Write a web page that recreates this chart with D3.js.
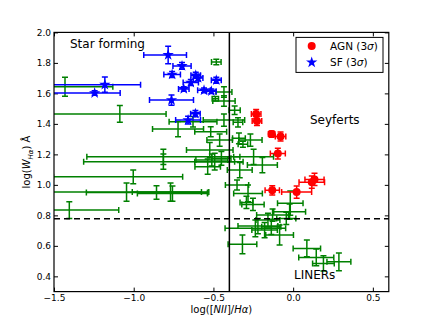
<!DOCTYPE html>
<html>
<head>
<meta charset="utf-8">
<style>
  body { margin: 0; background: #fff; }
  svg text { font-family: "DejaVu Sans", sans-serif; fill: #000; }
</style>
</head>
<body>
<svg id="chart" width="432" height="324"></svg>
<script src="https://d3js.org/d3.v7.min.js"></script>
<script>
// AGN (3 sigma) - red circles
const agnX    = [-0.232, -0.227, -0.135, -0.079, -0.096, -0.131, 0.022, 0.117, 0.134];
const agnY    = [1.465, 1.419, 1.333, 1.317, 1.205, 0.964, 0.953, 1.018, 1.036];
const agnXerr = [0.03, 0.03, 0.02, 0.033, 0.047, 0.045, 0.094, 0.08, 0.06];
const agnYerr = [0.03, 0.03, 0.02, 0.03, 0.035, 0.03, 0.04, 0.04, 0.04];

// SF (3 sigma) - blue stars
const sfX    = [-0.784, -0.697, -0.759, -0.611, -0.596, -0.642, -0.686, -0.482, -0.559, -0.513, -0.763, -0.613, -0.659, -1.181, -1.245];
const sfY    = [1.852, 1.780, 1.724, 1.719, 1.701, 1.671, 1.629, 1.686, 1.620, 1.614, 1.556, 1.467, 1.425, 1.657, 1.602];
const sfXlo  = [0.153, 0.057, 0.052, 0.03, 0.03, 0.048, 0.033, 0.031, 0.04, 0.03, 0.138, 0.03, 0.078, 0.33, 0.26];
const sfXhi  = [0.115, 0.057, 0.052, 0.03, 0.03, 0.048, 0.033, 0.031, 0.04, 0.03, 0.138, 0.03, 0.078, 0.224, 0.16];
const sfYerr = [0.057, 0.022, 0.02, 0.02, 0.02, 0.02, 0.015, 0.02, 0.015, 0.015, 0.033, 0.02, 0.025, 0.05, 0.015];

// remaining galaxies - green error bars only
const galX = [-1.431, -1.087, -0.722, -0.517, -0.814, -0.814, -1.003, -1.045, -0.857, -0.769,
              -0.757, -1.404, -0.488, -0.482, -0.434, -0.434, -0.367, -0.434, -0.346, -0.628,
              -0.461, -0.340, -0.268, -0.315, -0.523, -0.248, -0.193, -0.335, -0.510, -0.492,
              -0.536, -0.450, -0.352, -0.283, -0.293, -0.252, -0.018, -0.022, -0.158, -0.043,
              -0.237, -0.221, -0.179, -0.137, -0.085, -0.318, 0.086, 0.145, 0.190, 0.287, -0.129];
const galY = [1.644, 1.465, 1.366, 1.348, 1.184, 1.152, 1.053, 0.953, 0.950, 0.953,
              0.943, 0.835, 1.565, 1.806, 1.609, 1.550, 1.489, 1.425, 1.410, 1.414,
              1.294, 1.305, 1.294, 1.266, 1.228, 1.184, 1.130, 1.097, 1.163, 1.152,
              1.119, 1.174, 0.999, 0.944, 0.885, 0.872, 0.880, 0.824, 0.769, 0.780,
              0.715, 0.730, 0.704, 0.725, 0.671, 0.610, 0.583, 0.524, 0.485, 0.495, 0.802];
const galXlo = [0.30, 0.45, 0.16, 0.10, 0.48, 0.50, 0.50, 0.47, 0.44, 0.24,
                0.22, 0.31, 0.02, 0.03, 0.05, 0.07, 0.035, 0.13, 0.03, 0.15,
                0.08, 0.04, 0.073, 0.03, 0.146, 0.125, 0.094, 0.078, 0.10, 0.125,
                0.08, 0.06, 0.073, 0.09, 0.04, 0.07, 0.08, 0.10, 0.075, 0.06,
                0.19, 0.125, 0.08, 0.06, 0.087, 0.09, 0.086, 0.11, 0.068, 0.075, 0.10];
const galXhi = [0.30, 0.29, 0.16, 0.10, 0.48, 0.50, 0.31, 0.47, 0.32, 0.24,
                0.22, 0.31, 0.02, 0.03, 0.05, 0.07, 0.035, 0.13, 0.03, 0.15,
                0.08, 0.04, 0.073, 0.03, 0.146, 0.125, 0.094, 0.078, 0.10, 0.125,
                0.08, 0.06, 0.073, 0.09, 0.04, 0.07, 0.08, 0.10, 0.075, 0.06,
                0.19, 0.125, 0.08, 0.06, 0.087, 0.09, 0.086, 0.11, 0.068, 0.075, 0.10];
const galYerr = [0.062, 0.055, 0.05, 0.033, 0.05, 0.05, 0.045, 0.06, 0.045, 0.06,
                 0.05, 0.055, 0.015, 0.018, 0.035, 0.035, 0.028, 0.04, 0.03, 0.035,
                 0.04, 0.035, 0.04, 0.02, 0.05, 0.05, 0.05, 0.05, 0.04, 0.055,
                 0.05, 0.045, 0.033, 0.055, 0.04, 0.04, 0.08, 0.05, 0.045, 0.04,
                 0.055, 0.05, 0.05, 0.05, 0.065, 0.062, 0.055, 0.055, 0.05, 0.058, 0.04];

const xTicks = [-1.5, -1.0, -0.5, 0.0, 0.5];
const yTicks = [0.4, 0.6, 0.8, 1.0, 1.2, 1.4, 1.6, 1.8, 2.0];
const niiCut = -0.4;            // vertical divider
const ewCut = Math.log10(6);    // dashed horizontal divider

const margin = {top: 32.4, right: 43.2, bottom: 32.4, left: 54},
      width = 432 - margin.left - margin.right,
      height = 324 - margin.top - margin.bottom;

const svg = d3.select("#chart");
const chart = svg.append("g")
    .attr("transform", "translate(" + margin.left + "," + margin.top + ")");

const xScale = d3.scaleLinear().domain([-1.5, 0.6]).range([0, width]);
const yScale = d3.scaleLinear().domain([0.3, 2.0]).range([height, 0]);

chart.append("clipPath").attr("id", "clip")
  .append("rect").attr("width", width).attr("height", height);

const fmt = d3.format(".1f");

// axes with inward ticks on all four sides
chart.append("g")
    .attr("transform", "translate(0," + height + ")")
    .call(d3.axisBottom(xScale).tickValues(xTicks).tickSize(-4).tickPadding(3).tickFormat(fmt));
chart.append("g")
    .call(d3.axisTop(xScale).tickValues(xTicks).tickSize(-4).tickFormat(""));
chart.append("g")
    .call(d3.axisLeft(yScale).tickValues(yTicks).tickSize(-4).tickPadding(3).tickFormat(fmt));
chart.append("g")
    .attr("transform", "translate(" + width + ",0)")
    .call(d3.axisRight(yScale).tickValues(yTicks).tickSize(-4).tickFormat(""));
chart.selectAll(".domain").remove();
chart.selectAll(".tick line").attr("stroke", "#000").attr("stroke-width", 1);
chart.selectAll(".tick text").attr("font-size", 9).attr("font-family", "DejaVu Sans");

function rows(xs, ys, xlo, xhi, ye) {
  return xs.map((d, i) => ({x: d, y: ys[i], xlo: xlo[i], xhi: xhi[i], ye: ye[i]}));
}

function drawErrors(data, color) {
  const g = chart.append("g").attr("clip-path", "url(#clip)")
      .attr("stroke", color).attr("stroke-width", 1.5).attr("fill", "none");
  const cap = 3;
  const e = g.selectAll("g").data(data).join("g");
  e.append("line")
      .attr("x1", d => xScale(d.x - d.xlo)).attr("x2", d => xScale(d.x + d.xhi))
      .attr("y1", d => yScale(d.y)).attr("y2", d => yScale(d.y));
  e.append("line")
      .attr("x1", d => xScale(d.x)).attr("x2", d => xScale(d.x))
      .attr("y1", d => yScale(d.y - d.ye)).attr("y2", d => yScale(d.y + d.ye));
  // caps
  e.append("path")
      .attr("d", d => {
        const x0 = xScale(d.x - d.xlo), x1 = xScale(d.x + d.xhi), yc = yScale(d.y);
        const xc = xScale(d.x), y0 = yScale(d.y - d.ye), y1 = yScale(d.y + d.ye);
        return "M" + x0 + "," + (yc - cap) + "V" + (yc + cap) +
               "M" + x1 + "," + (yc - cap) + "V" + (yc + cap) +
               "M" + (xc - cap) + "," + y0 + "H" + (xc + cap) +
               "M" + (xc - cap) + "," + y1 + "H" + (xc + cap);
      });
  return g;
}

const galData = rows(galX, galY, galXlo, galXhi, galYerr);
const sfData = rows(sfX, sfY, sfXlo, sfXhi, sfYerr);
const agnData = rows(agnX, agnY, agnXerr, agnXerr, agnYerr);

drawErrors(galData, "#008000");

drawErrors(sfData, "#0000ff");
const star = d3.symbol().type(d3.symbolStar).size(40);
chart.append("g").attr("clip-path", "url(#clip)")
  .selectAll("path").data(sfData).join("path")
    .attr("d", star)
    .attr("transform", d => "translate(" + xScale(d.x) + "," + yScale(d.y) + ")")
    .attr("fill", "#0000ff");

drawErrors(agnData, "#ff0000");
chart.append("g").attr("clip-path", "url(#clip)")
  .selectAll("circle").data(agnData).join("circle")
    .attr("cx", d => xScale(d.x)).attr("cy", d => yScale(d.y))
    .attr("r", 4).attr("fill", "#ff0000");

// dividing lines
chart.append("line")
    .attr("x1", xScale(niiCut)).attr("x2", xScale(niiCut))
    .attr("y1", 0).attr("y2", height)
    .attr("stroke", "#000").attr("stroke-width", 1.5);
chart.append("line")
    .attr("x1", 0).attr("x2", width)
    .attr("y1", yScale(ewCut)).attr("y2", yScale(ewCut))
    .attr("stroke", "#000").attr("stroke-width", 1.5)
    .attr("stroke-dasharray", "6,4");

// frame
chart.append("rect")
    .attr("width", width).attr("height", height)
    .attr("fill", "none").attr("stroke", "#000").attr("stroke-width", 1.2);

// region labels
chart.append("text").attr("x", 16).attr("y", 16).attr("font-size", 12).text("Star forming");
chart.append("text").attr("x", 256).attr("y", 92).attr("font-size", 12).text("Seyferts");
chart.append("text").attr("x", 240).attr("y", 247).attr("font-size", 12).text("LINERs");

// legend
const leg = chart.append("g").attr("transform", "translate(242,5)");
leg.append("rect").attr("width", 87).attr("height", 35)
    .attr("fill", "#fff").attr("stroke", "#000").attr("stroke-width", 1);
leg.append("circle").attr("cx", 15.7).attr("cy", 8.6).attr("r", 4).attr("fill", "#ff0000");
leg.append("path").attr("d", star)
    .attr("transform", "translate(15.7,25)").attr("fill", "#0000ff");
const t1 = leg.append("text").attr("x", 34).attr("y", 12.4).attr("font-size", 10.5);
t1.append("tspan").text("AGN (3");
t1.append("tspan").attr("font-style", "italic").text("σ");
t1.append("tspan").text(")");
const t2 = leg.append("text").attr("x", 34).attr("y", 28.8).attr("font-size", 10.5);
t2.append("tspan").text("SF (3");
t2.append("tspan").attr("font-style", "italic").text("σ");
t2.append("tspan").text(")");

// axis labels
const xl = svg.append("text")
    .attr("x", margin.left + width / 2).attr("y", 313)
    .attr("text-anchor", "middle").attr("font-size", 10);
xl.append("tspan").text("log([");
xl.append("tspan").attr("font-style", "italic").text("NII");
xl.append("tspan").text("]/");
xl.append("tspan").attr("font-style", "italic").text("Hα");
xl.append("tspan").text(")");

const yl = svg.append("text")
    .attr("transform", "translate(30," + (margin.top + height / 2) + ") rotate(-90)")
    .attr("text-anchor", "middle").attr("font-size", 10);
yl.append("tspan").text("log(");
yl.append("tspan").attr("font-style", "italic").text("W");
yl.append("tspan").attr("font-style", "italic").attr("font-size", 7).attr("dy", 2.5).text("Hα");
yl.append("tspan").attr("dy", -2.5).text(") Å");
</script>
</body>
</html>
